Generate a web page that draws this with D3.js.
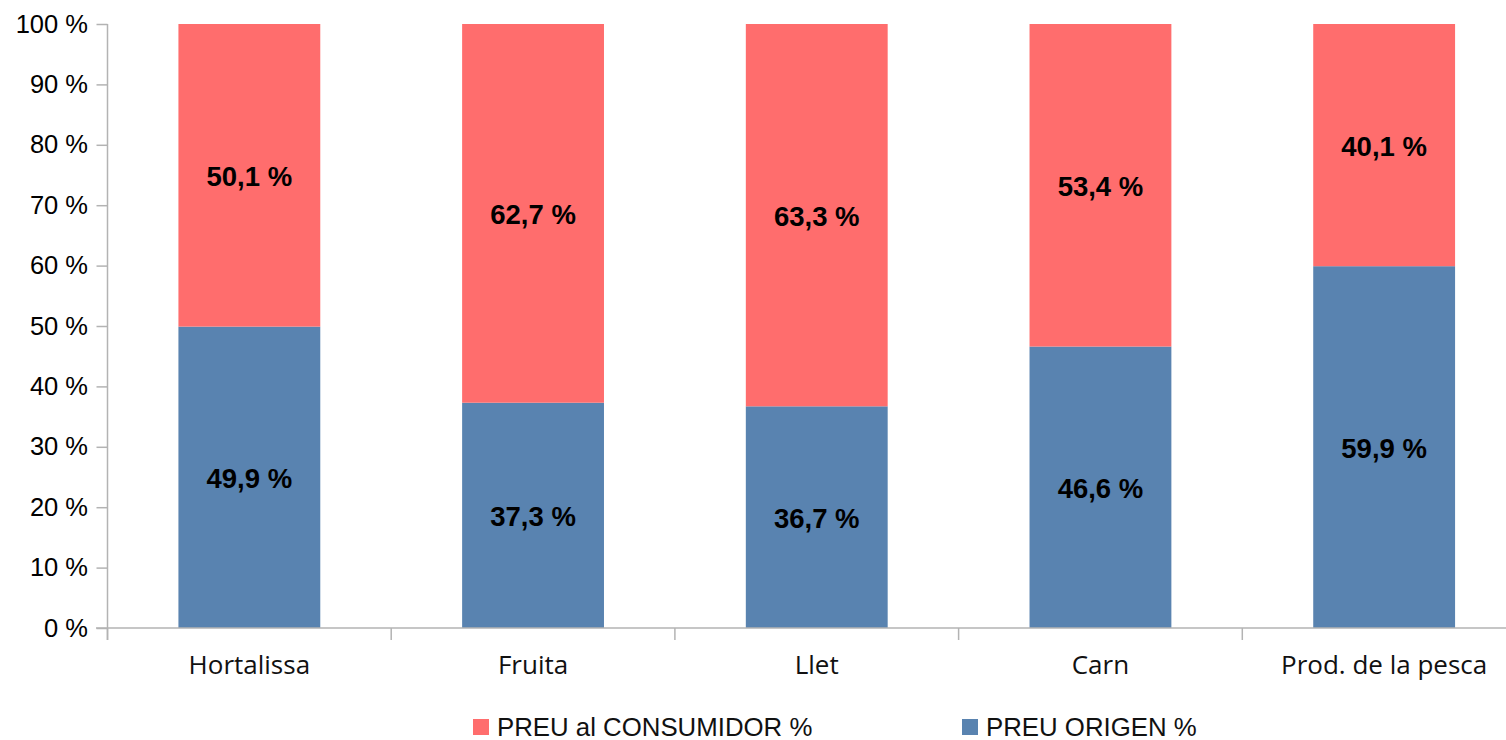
<!DOCTYPE html>
<html>
<head>
<meta charset="utf-8">
<script src="https://cdn.jsdelivr.net/npm/d3@7"></script>
<style>
  html, body { margin: 0; padding: 0; background: #fff; }
  svg { display: block; }
  .tick-y text { font-family: "Liberation Sans", Arial, sans-serif; font-size: 25.5px; fill: #000; }
  .tick-x text { font-family: "Open Sans", "Noto Sans", sans-serif; font-size: 26px; fill: #111; }
  .bar-label { font-family: "Liberation Sans", Arial, sans-serif; font-size: 27.5px; font-weight: bold; fill: #000; }
  .legend text { font-family: "Liberation Sans", Arial, sans-serif; font-size: 25.8px; fill: #111; }
</style>
</head>
<body>
<div id="chart"></div>
<script>
const categories = ['Hortalissa', 'Fruita', 'Llet', 'Carn', 'Prod. de la pesca'];
const preuOrigen = [49.9, 37.3, 36.7, 46.6, 59.9];
const preuConsumidor = [50.1, 62.7, 63.3, 53.4, 40.1];
const yTicks = [0, 10, 20, 30, 40, 50, 60, 70, 80, 90, 100];
const seriesNames = ['PREU al CONSUMIDOR %', 'PREU ORIGEN %'];

const width = 1506, height = 740;
const colors = { origen: '#5983b0', consumidor: '#ff6d6d' };
const axisColor = '#b3b3b3';
const fmt = v => v.toFixed(1).replace('.', ',') + ' %';

const svg = d3.select('#chart').append('svg')
  .attr('width', width).attr('height', height);

// plot area runs past the right edge of the picture, as in the source
const x = d3.scaleBand().domain(categories).range([107.5, 1526]).paddingInner(0.5).paddingOuter(0.25);
const y = d3.scaleLinear().domain([0, 100]).range([628, 24]);

const rows = categories.map((c, i) => ({ cat: c, origen: preuOrigen[i], consumidor: preuConsumidor[i] }));
const stack = d3.stack().keys(['origen', 'consumidor'])(rows);

// y axis
const yAxis = svg.append('g').attr('class', 'tick-y').attr('transform', 'translate(107.5,0)')
  .call(d3.axisLeft(y).tickValues(yTicks).tickSize(11).tickPadding(8.5).tickFormat(d => d + ' %'));
yAxis.select('.domain').remove();
yAxis.selectAll('line').attr('stroke', axisColor).attr('stroke-width', 1.5);
svg.append('line').attr('x1', 107.5).attr('x2', 107.5).attr('y1', y(100)).attr('y2', 640)
  .attr('stroke', axisColor).attr('stroke-width', 1.5);

// bars
svg.append('g').selectAll('g').data(stack).join('g')
  .attr('fill', d => colors[d.key])
  .selectAll('rect').data(d => d).join('rect')
  .attr('x', d => x(d.data.cat))
  .attr('width', x.bandwidth())
  .attr('y', d => y(d[1]))
  .attr('height', d => y(d[0]) - y(d[1]));

// bar labels
svg.append('g').selectAll('g').data(stack).join('g')
  .selectAll('text').data(d => d.map(v => ({ v, key: d.key }))).join('text')
  .attr('class', 'bar-label')
  .attr('text-anchor', 'middle')
  .attr('dy', '0.4em')
  .attr('x', d => x(d.v.data.cat) + x.bandwidth() / 2)
  .attr('y', d => (y(d.v[0]) + y(d.v[1])) / 2)
  .text(d => fmt(d.v.data[d.key]));

// x axis
const step = x.step();
const boundaries = d3.range(categories.length).map(i => 107.5 + i * step);
svg.append('g').selectAll('line').data(boundaries).join('line')
  .attr('x1', d => d).attr('x2', d => d).attr('y1', y(0)).attr('y2', 640)
  .attr('stroke', axisColor).attr('stroke-width', 1.5);
svg.append('line').attr('x1', 96).attr('x2', width).attr('y1', y(0)).attr('y2', y(0))
  .attr('stroke', axisColor).attr('stroke-width', 1.5);
svg.append('g').attr('class', 'tick-x').selectAll('text').data(categories).join('text')
  .attr('text-anchor', 'middle')
  .attr('x', d => x(d) + x.bandwidth() / 2)
  .attr('y', 674)
  .text(d => d);

// legend
const legendItems = [
  { name: seriesNames[0], color: colors.consumidor, x: 473 },
  { name: seriesNames[1], color: colors.origen, x: 962 }
];
const legend = svg.append('g').attr('class', 'legend');
const li = legend.selectAll('g').data(legendItems).join('g')
  .attr('transform', d => `translate(${d.x},719)`);
li.append('rect').attr('width', 16).attr('height', 16).attr('fill', d => d.color);
li.append('text').attr('x', 24).attr('y', 17).text(d => d.name);
</script>
</body>
</html>
